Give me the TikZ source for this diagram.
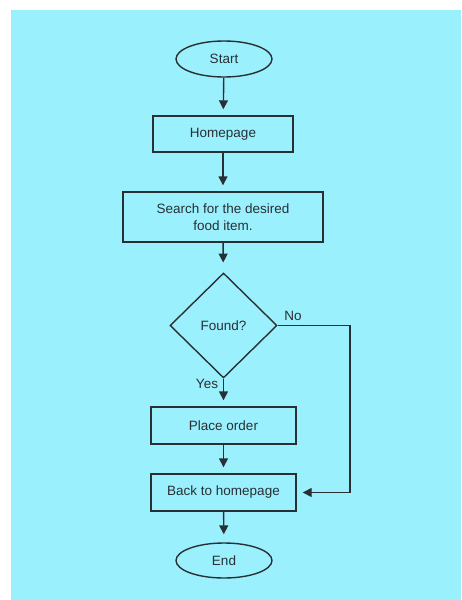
\documentclass[tikz,border=0pt]{standalone}
\usepackage{fontspec}
\setmainfont{Liberation Sans}
\usetikzlibrary{shapes.geometric,arrows.meta}
\definecolor{bgcyan}{RGB}{155,240,254}
\definecolor{ink}{RGB}{40,48,52}
\tikzset{
  base/.style={draw=ink, line width=1.4pt, text=ink, font=\fontsize{13.5}{16.5}\selectfont, align=center, inner sep=0pt},
  term/.style={base, ellipse, minimum width=96pt, minimum height=36pt},
  procbox/.style={base, rectangle, minimum height=37pt},
  decide/.style={base, diamond, minimum width=107pt, minimum height=105pt},
  flow/.style={draw=ink, line width=1.4pt, -{Triangle[width=9pt,length=9pt]}, shorten >=6pt},
  lbl/.style={text=ink, font=\fontsize{13.5}{16.5}\selectfont, inner sep=0pt}
}
\begin{document}
\begin{tikzpicture}[x=1pt,y=-1pt]
\useasboundingbox (0,0) rectangle (461,600);
\fill[white] (0,0) rectangle (461,600);
\fill[bgcyan] (11,10) rectangle (461,600);
\node[term] (start) at (224,59) {Start};
\node[procbox, minimum width=140pt, minimum height=36pt] (home) at (223,134) {Homepage};
\node[procbox, minimum width=200pt, minimum height=50pt] (search) at (223,217) {Search for the desired\\food item.};
\node[decide] (found) at (223.5,325.5) {Found?};
\node[procbox, minimum width=145pt] (order) at (223.5,425.5) {Place order};
\node[procbox, minimum width=145pt] (back) at (223.5,492.5) {Back to homepage};
\node[term, minimum height=35pt] (end) at (224,560.5) {End};
\coordinate (corner) at (350,325.5);
\draw[flow] (start) -- (home);
\draw[flow] (home) -- (search);
\draw[flow, shorten >=10pt] (search) -- (found);
\draw[flow] (found) -- (order);
\draw[flow] (order) -- (back);
\draw[flow, shorten >=8pt] (back) -- (end);
\draw[flow] (found.east) -- (corner) |- (back.east);
\node[lbl] (no) at (293,316) {No};
\node[lbl] (yes) at (207,384) {Yes};
\end{tikzpicture}
\end{document}
